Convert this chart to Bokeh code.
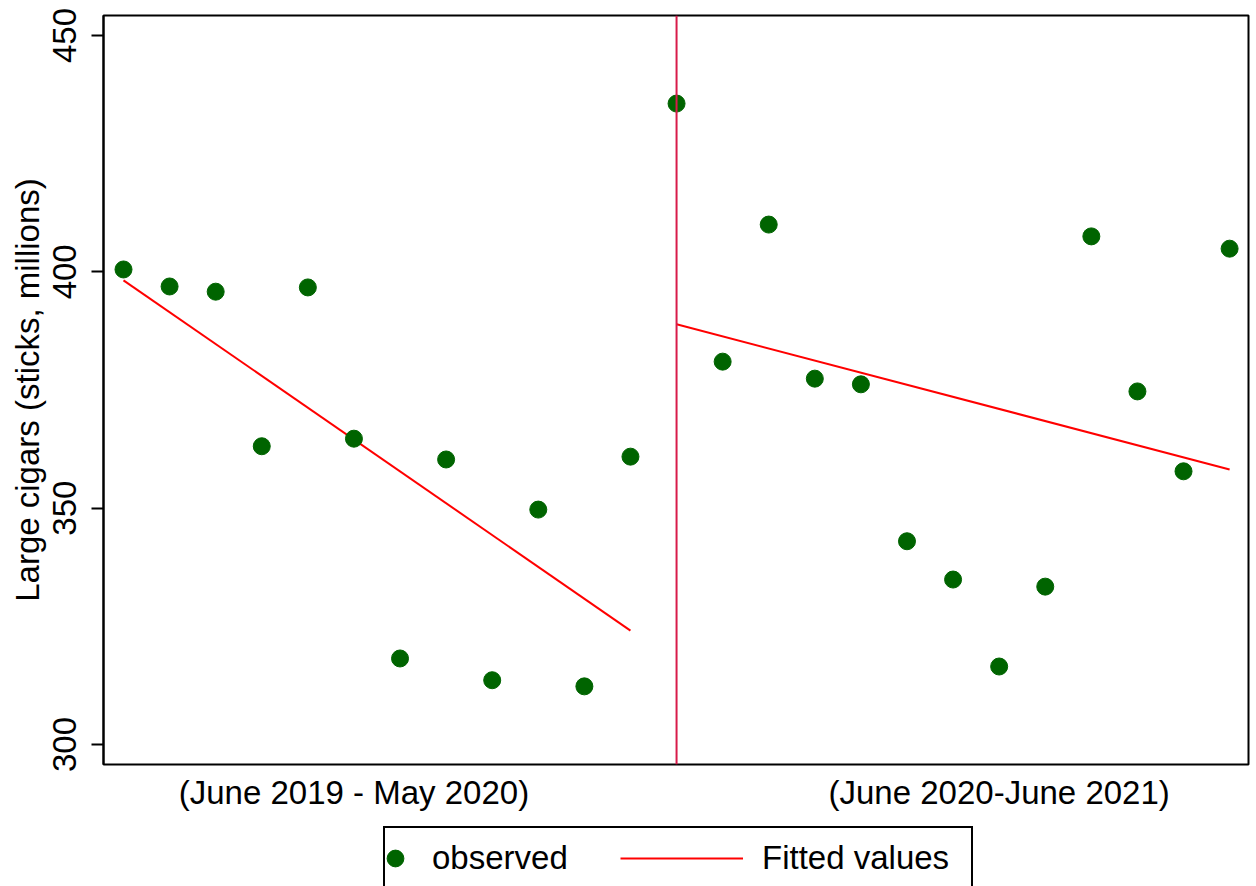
from bokeh.plotting import figure
from bokeh.models import Range1d, Legend, LegendItem, FixedTicker, Span
from bokeh.layouts import column
from bokeh.embed import file_html
from bokeh.resources import INLINE

# ---- data ----
month_index = list(range(25))
observed = [400.5, 396.9, 395.8, 363.1, 396.7, 364.7, 318.2, 360.3, 313.6, 349.7, 312.3, 360.9,
            435.6, 381.0, 410.0, 377.4, 376.2, 343.0, 334.9, 316.5, 333.4, 407.5, 374.7, 357.8, 404.9]
fit_before_x = [0, 11]
fit_before_y = [398.2, 324.1]
fit_after_x = [12, 24]
fit_after_y = [388.9, 358.2]
break_month = 12
period_ticks = [5, 19]
period_labels = ["(June 2019 - May 2020)", "(June 2020-June 2021)"]
y_ticks = [300, 350, 400, 450]
legend_labels = ["observed", "Fitted values"]

FONT = "Liberation Sans"
FS = "33px"
GREEN = "#006400"
RED = "#ff0000"

p = figure(width=1250, height=815, output_backend="svg", toolbar_location=None,
           x_range=Range1d(-0.434, 24.41), y_range=Range1d(295.77, 454.23),
           min_border_left=103, min_border_right=2, min_border_top=15, min_border_bottom=51)
p.outline_line_color = "black"
p.outline_line_width = 2
p.outline_line_alpha = 1.0
p.xgrid.visible = False
p.ygrid.visible = False

p.yaxis.ticker = FixedTicker(ticks=y_ticks)
p.yaxis.major_label_orientation = "vertical"
p.yaxis.major_tick_out = 12
p.yaxis.major_tick_in = 0
p.yaxis.major_tick_line_width = 2
p.yaxis.minor_tick_line_color = None
p.yaxis.axis_line_width = 2
p.yaxis.major_label_text_font = FONT
p.yaxis.major_label_text_font_size = FS
p.yaxis.major_label_text_color = "black"
p.yaxis.major_label_standoff = 15
p.yaxis.axis_label = "Large cigars (sticks, millions)"
p.yaxis.axis_label_text_font = FONT
p.yaxis.axis_label_text_font_size = FS
p.yaxis.axis_label_text_font_style = "normal"
p.yaxis.axis_label_text_color = "black"
p.yaxis.axis_label_standoff = 5

p.xaxis.ticker = FixedTicker(ticks=period_ticks)
p.xaxis.major_label_overrides = {t: l for t, l in zip(period_ticks, period_labels)}
p.xaxis.major_tick_line_color = None
p.xaxis.minor_tick_line_color = None
p.xaxis.axis_line_color = None
p.xaxis.major_label_text_font = FONT
p.xaxis.major_label_text_font_size = FS
p.xaxis.major_label_text_color = "black"
p.xaxis.major_label_standoff = 3

p.add_layout(Span(location=break_month, dimension="height", line_color="#d81b4a", line_width=2))
p.line(fit_before_x, fit_before_y, line_color=RED, line_width=2)
p.line(fit_after_x, fit_after_y, line_color=RED, line_width=2)
p.scatter(month_index, observed, size=17, fill_color=GREEN, line_color=GREEN)

# ---- legend strip below the plot (its frame is aligned with the plot frame above) ----
q = figure(width=1250, height=71, output_backend="svg", toolbar_location=None,
           x_range=Range1d(0, 1145), y_range=Range1d(0, 71),
           x_axis_type=None, y_axis_type=None,
           min_border_left=103, min_border_right=2, min_border_top=0, min_border_bottom=0)
q.outline_line_color = None
q.xgrid.visible = False
q.ygrid.visible = False
# legend keys (kept outside the visible range; only their legend swatches show)
key_dot = q.scatter([-1000], [-1000], size=17, fill_color=GREEN, line_color=GREEN)
key_line = q.line([-1000, -999], [-1000, -1000], line_color=RED, line_width=2)
key_none = q.scatter([-1000], [-1000], size=1, alpha=0)

box = Legend(items=[LegendItem(label=" ", renderers=[key_none])], location=(280, -6),
             glyph_width=586, glyph_height=62, padding=0, margin=0,
             label_standoff=0, label_text_font_size="1px", label_height=0, label_width=0, spacing=0,
             border_line_color="black", border_line_alpha=1.0, border_line_width=2,
             background_fill_color="white", background_fill_alpha=1.0)
leg_a = Legend(items=[LegendItem(label=legend_labels[0], renderers=[key_dot])], location=(271, 7),
               glyph_width=42, glyph_height=42, padding=0, margin=0, label_standoff=16,
               label_text_font=FONT, label_text_font_size=FS, label_text_color="black",
               label_height=42, border_line_color=None, background_fill_alpha=0)
leg_b = Legend(items=[LegendItem(label=legend_labels[1], renderers=[key_line])], location=(517, 7),
               glyph_width=123, glyph_height=42, padding=0, margin=0, label_standoff=19,
               label_text_font=FONT, label_text_font_size=FS, label_text_color="black",
               label_height=42, border_line_color=None, background_fill_alpha=0)
q.add_layout(box)
q.add_layout(leg_a)
q.add_layout(leg_b)

layout = column(p, q, spacing=0)
open("out.html", "w").write(file_html(layout, INLINE))
